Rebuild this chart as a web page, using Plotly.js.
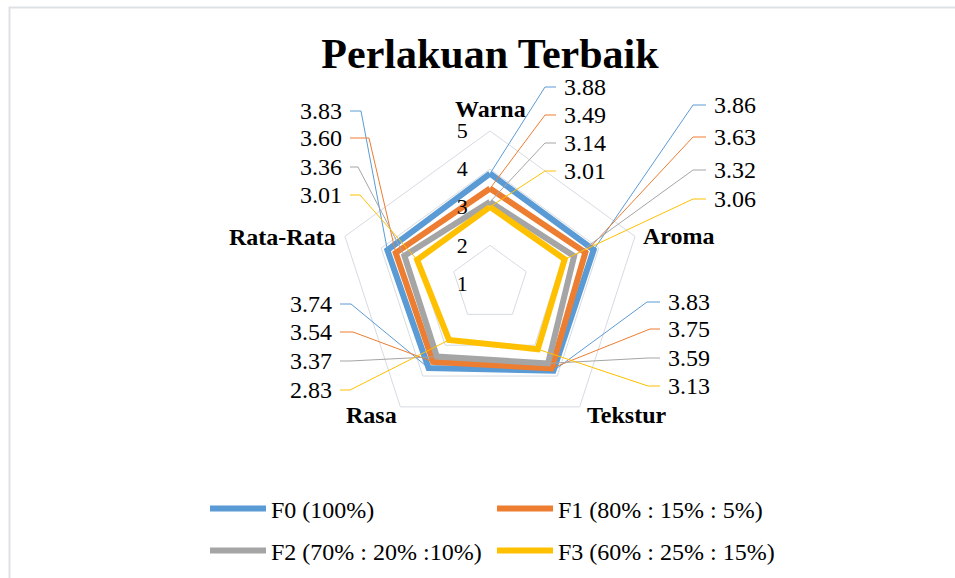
<!DOCTYPE html>
<html>
<head>
<meta charset="utf-8">
<script src="https://cdn.plot.ly/plotly-3.0.1.min.js"></script>
<style>
  html, body { margin: 0; padding: 0; background: #ffffff; }
  #chart { width: 955px; height: 578px; }
</style>
</head>
<body>
<div id="chart"></div>
<script>
// ---------------- data ----------------
const categories = ['Warna', 'Aroma', 'Tekstur', 'Rasa', 'Rata-Rata'];
const seriesNames = ['F0 (100%)', 'F1 (80% : 15% : 5%)', 'F2 (70% : 20% :10%)', 'F3 (60% : 25% : 15%)'];
const F0 = [3.88, 3.86, 3.83, 3.74, 3.83];
const F1 = [3.49, 3.63, 3.75, 3.54, 3.60];
const F2 = [3.14, 3.32, 3.59, 3.37, 3.36];
const F3 = [3.01, 3.06, 3.13, 2.83, 3.01];
const radialTicks = [1, 2, 3, 4, 5];
const titleText = 'Perlakuan Terbaik';

// ---------------- style / layout config ----------------
const W = 955, H = 578;
const colors = ['#5B9BD5', '#ED7D31', '#A5A5A5', '#FFC000'];
const allSeries = [F0, F1, F2, F3];
const serif = 'Liberation Serif, Times New Roman, serif';
const gridColor = '#d6dbe2';
const rRange = [1, 5];
// polar domain in pixels
const polarPx = {x0: 337.5, x1: 642.5, y0: 131, y1: 436};

// data-label placement per category (pixels): side, leader end x, elbow x per series, label y per series
const labelCfg = [
  {side: 'right', endX: 556, elbowX: [545, 545, 545, 545], ys: [87, 115, 143, 171]},
  {side: 'right', endX: 706, elbowX: [693, 693, 693, 693], ys: [105, 137, 170, 199]},
  {side: 'right', endX: 660, elbowX: [647, 650, 648, 648], ys: [302, 329, 358, 386]},
  {side: 'left',  endX: 340, elbowX: [351, 353, 350, 350], ys: [304, 332, 361, 390]},
  {side: 'left',  endX: 350, elbowX: [361, 369, 358, 360], ys: [111, 138, 167, 195]}
];
// category label placement (pixels)
const catCfg = [
  {x: 490, y: 109, anchor: 'center'},
  {x: 641, y: 236, anchor: 'left'},
  {x: 626, y: 415, anchor: 'center'},
  {x: 371, y: 415, anchor: 'center'},
  {x: 338, y: 237, anchor: 'right'}
];

const px2x = p => p / W;
const py2y = p => 1 - p / H;

// geometry of polar subplot (same rule the library uses: circle fit into domain)
const cx = (polarPx.x0 + polarPx.x1) / 2;
const cy = (polarPx.y0 + polarPx.y1) / 2;
const Rpx = Math.min(polarPx.x1 - polarPx.x0, polarPx.y1 - polarPx.y0) / 2;
const unit = Rpx / (rRange[1] - rRange[0]);
function pointPx(catIdx, v) {
  const th = (90 - catIdx * 360 / categories.length) * Math.PI / 180;
  const r = (v - rRange[0]) * unit;
  return [cx + r * Math.cos(th), cy - r * Math.sin(th)];
}

// ---------------- traces ----------------
const traces = allSeries.map((vals, i) => ({
  type: 'scatterpolar',
  r: vals.concat([vals[0]]),
  theta: categories.concat([categories[0]]),
  mode: 'lines',
  name: seriesNames[i],
  line: {color: colors[i], width: 6},
  legend: i < 2 ? 'legend' : 'legend2',
  hoverinfo: 'skip'
}));

// ---------------- annotations & shapes ----------------
const annotations = [];
const shapes = [];

// chart border (light frame like the source)
shapes.push({type: 'rect', xref: 'paper', yref: 'paper',
  x0: px2x(9.5), x1: px2x(980), y0: py2y(7.5), y1: py2y(600),
  line: {color: '#dde1e6', width: 2}, fillcolor: 'rgba(0,0,0,0)', layer: 'below'});

categories.forEach((cat, ci) => {
  const cfg = labelCfg[ci];
  allSeries.forEach((vals, si) => {
    const [px, py] = pointPx(ci, vals[ci]);
    const ly = cfg.ys[si];
    const ex = cfg.elbowX[si];
    const path = 'M' + px2x(px) + ',' + py2y(py) +
                 ' L' + px2x(ex) + ',' + py2y(ly) +
                 ' L' + px2x(cfg.endX) + ',' + py2y(ly);
    shapes.push({type: 'path', xref: 'paper', yref: 'paper', path: path,
      line: {color: colors[si], width: 1}, layer: 'above'});
    annotations.push({
      xref: 'paper', yref: 'paper',
      x: px2x(cfg.side === 'right' ? cfg.endX + 6 : cfg.endX - 6),
      y: py2y(ly),
      xanchor: cfg.side === 'right' ? 'left' : 'right',
      yanchor: 'middle',
      text: vals[ci].toFixed(2),
      showarrow: false,
      font: {family: serif, size: 24, color: '#000000'}
    });
  });
  annotations.push({
    xref: 'paper', yref: 'paper',
    x: px2x(catCfg[ci].x), y: py2y(catCfg[ci].y),
    xanchor: catCfg[ci].anchor, yanchor: 'middle',
    text: '<b>' + cat + '</b>', showarrow: false,
    font: {family: serif, size: 24, color: '#000000'}
  });
});

const legendCommon = {
  orientation: 'h', xanchor: 'left', yanchor: 'middle',
  font: {family: serif, size: 24, color: '#000000'},
  entrywidth: 216, itemwidth: 56, bgcolor: 'rgba(0,0,0,0)'
};

const layout = {
  width: W, height: H,
  margin: {l: 0, r: 0, t: 0, b: 0},
  paper_bgcolor: '#ffffff',
  plot_bgcolor: '#ffffff',
  title: {text: '<b>' + titleText + '</b>', x: px2x(490), xanchor: 'center',
          y: py2y(53), yanchor: 'middle', yref: 'container',
          font: {family: serif, size: 42, color: '#000000'}},
  showlegend: true,
  legend: Object.assign({x: px2x(205), y: py2y(509)}, legendCommon),
  legend2: Object.assign({x: px2x(205), y: py2y(551)}, legendCommon),
  polar: {
    domain: {x: [px2x(polarPx.x0), px2x(polarPx.x1)], y: [py2y(polarPx.y1), py2y(polarPx.y0)]},
    gridshape: 'linear',
    bgcolor: 'rgba(0,0,0,0)',
    radialaxis: {
      range: rRange, tickvals: radialTicks, ticktext: radialTicks.map(String),
      angle: 90, side: 'counterclockwise', tickangle: 90,
      showline: false, ticks: 'outside', ticklen: 14, tickcolor: 'rgba(0,0,0,0)',
      gridcolor: gridColor, gridwidth: 1,
      tickfont: {family: serif, size: 22, color: '#000000'}
    },
    angularaxis: {
      rotation: 90, direction: 'clockwise',
      showgrid: false, showticklabels: false, ticks: '',
      showline: true, linecolor: gridColor, linewidth: 1
    }
  },
  annotations: annotations,
  shapes: shapes
};

Plotly.newPlot('chart', traces, layout, {displayModeBar: false, staticPlot: true});
</script>
</body>
</html>
